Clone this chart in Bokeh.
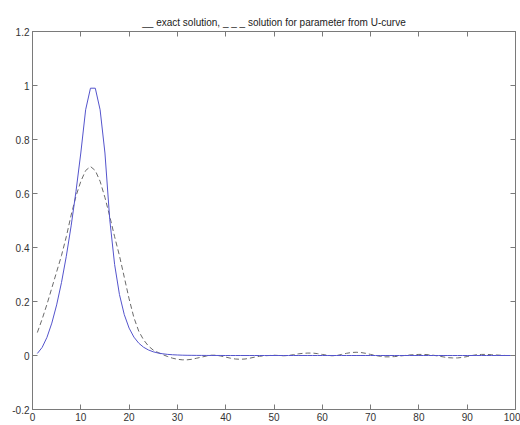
from bokeh.plotting import figure
from bokeh.models import Range1d, FixedTicker, LinearAxis, ColumnDataSource, CustomJSTickFormatter
from bokeh.embed import file_html
from bokeh.resources import INLINE

# ---- data ----
index = list(range(1, 101))
exact_solution = [
    0.0075, 0.03, 0.0675, 0.12, 0.1875, 0.27, 0.3675, 0.48, 0.6075, 0.75,
    0.91, 0.99, 0.99, 0.91, 0.75, 0.5027, 0.337, 0.2259, 0.1514, 0.1015,
    0.068, 0.0456, 0.0306, 0.0205, 0.0137, 0.0092, 0.0062, 0.0041, 0.0028, 0.0019,
    0.0012, 0.0008, 0.0006, 0.0004, 0.0003, 0.0002, 0.0001, 0.0001, 0.0001, 0.0,
    0.0, 0.0, 0.0, 0.0, 0.0, 0.0, 0.0, 0.0, 0.0, 0.0,
    0.0, 0.0, 0.0, 0.0, 0.0, 0.0, 0.0, 0.0, 0.0, 0.0,
    0.0, 0.0, 0.0, 0.0, 0.0, 0.0, 0.0, 0.0, 0.0, 0.0,
    0.0, 0.0, 0.0, 0.0, 0.0, 0.0, 0.0, 0.0, 0.0, 0.0,
    0.0, 0.0, 0.0, 0.0, 0.0, 0.0, 0.0, 0.0, 0.0, 0.0,
    0.0, 0.0, 0.0, 0.0, 0.0, 0.0, 0.0, 0.0, 0.0, 0.0,
]
ucurve_solution = [
    0.085, 0.135, 0.19, 0.25, 0.31, 0.37, 0.44, 0.52, 0.59, 0.645,
    0.685, 0.70, 0.685, 0.645, 0.585, 0.515, 0.44, 0.37, 0.29, 0.21,
    0.14, 0.09, 0.058, 0.035, 0.02, 0.011, 0.003, -0.004, -0.01, -0.014,
    -0.016, -0.016, -0.014, -0.01, -0.006, -0.002, 0.001, 0.001, -0.002, -0.006,
    -0.01, -0.013, -0.014, -0.013, -0.01, -0.006, -0.003, -0.001, 0.0, 0.001,
    0.0, -0.001, 0.0, 0.003, 0.006, 0.008, 0.009, 0.009, 0.007, 0.004,
    0.001, -0.001, 0.0, 0.004, 0.008, 0.011, 0.012, 0.011, 0.008, 0.004,
    0.0, -0.003, -0.005, -0.005, -0.004, -0.002, 0.0, 0.002, 0.003, 0.004,
    0.004, 0.003, 0.001, -0.002, -0.005, -0.008, -0.009, -0.009, -0.007, -0.004,
    0.0, 0.003, 0.004, 0.004, 0.003, 0.002, 0.001, 0.0, 0.0, 0.0,
]
x_ticks = [0, 10, 20, 30, 40, 50, 60, 70, 80, 90, 100]
y_ticks = [-0.2, 0, 0.2, 0.4, 0.6, 0.8, 1, 1.2]
y_tick_labels = ["-0.2", "0", "0.2", "0.4", "0.6", "0.8", "1", "1.2"]
title_text = "__ exact solution, _ _ _ solution for parameter from U-curve"

# ---- figure ----
FONT = "Liberation Sans"
AXIS_COLOR = "#7a7a7a"
LABEL_COLOR = "#333333"

p = figure(
    frame_width=483, frame_height=378,
    x_range=Range1d(0, 100), y_range=Range1d(-0.2, 1.2),
    output_backend="svg", toolbar_location=None,
    min_border_left=32, min_border_right=5, min_border_top=31, min_border_bottom=16,
    title=title_text,
)
p.title.align = "center"
p.title.text_font = FONT
p.title.text_font_size = "10px"
p.title.text_font_style = "normal"
p.title.text_color = "#222222"
p.title.standoff = 7
p.title.offset = 0

p.grid.visible = False
p.outline_line_color = AXIS_COLOR
p.background_fill_color = "white"
p.border_fill_color = "white"

def style_axis(ax, show_labels=True):
    ax.axis_line_color = AXIS_COLOR
    ax.major_tick_line_color = AXIS_COLOR
    ax.major_tick_in = 5
    ax.major_tick_out = 0
    ax.minor_tick_line_color = None
    ax.major_label_text_font = FONT
    ax.major_label_text_color = LABEL_COLOR
    ax.major_label_text_font_size = "10px"
    if show_labels:
        ax.major_label_standoff = 3
    else:
        ax.formatter = CustomJSTickFormatter(code="return '';")
        ax.major_label_standoff = 0

p.xaxis.ticker = FixedTicker(ticks=x_ticks)
p.yaxis.ticker = FixedTicker(ticks=y_ticks)
p.yaxis.major_label_overrides = {v: lab for v, lab in zip(y_ticks, y_tick_labels)}
style_axis(p.xaxis[0])
style_axis(p.yaxis[0])

top_axis = LinearAxis(ticker=FixedTicker(ticks=x_ticks))
right_axis = LinearAxis(ticker=FixedTicker(ticks=y_ticks))
style_axis(top_axis, show_labels=False)
style_axis(right_axis, show_labels=False)
p.add_layout(top_axis, "above")
p.add_layout(right_axis, "right")

src = ColumnDataSource(dict(x=index, exact=exact_solution, reg=ucurve_solution))
p.line("x", "reg", source=src, line_color="#6a6a6a", line_width=1, line_dash="5 3")
p.line("x", "exact", source=src, line_color="#5454cc", line_width=1)

open("out.html", "w").write(file_html(p, INLINE))
